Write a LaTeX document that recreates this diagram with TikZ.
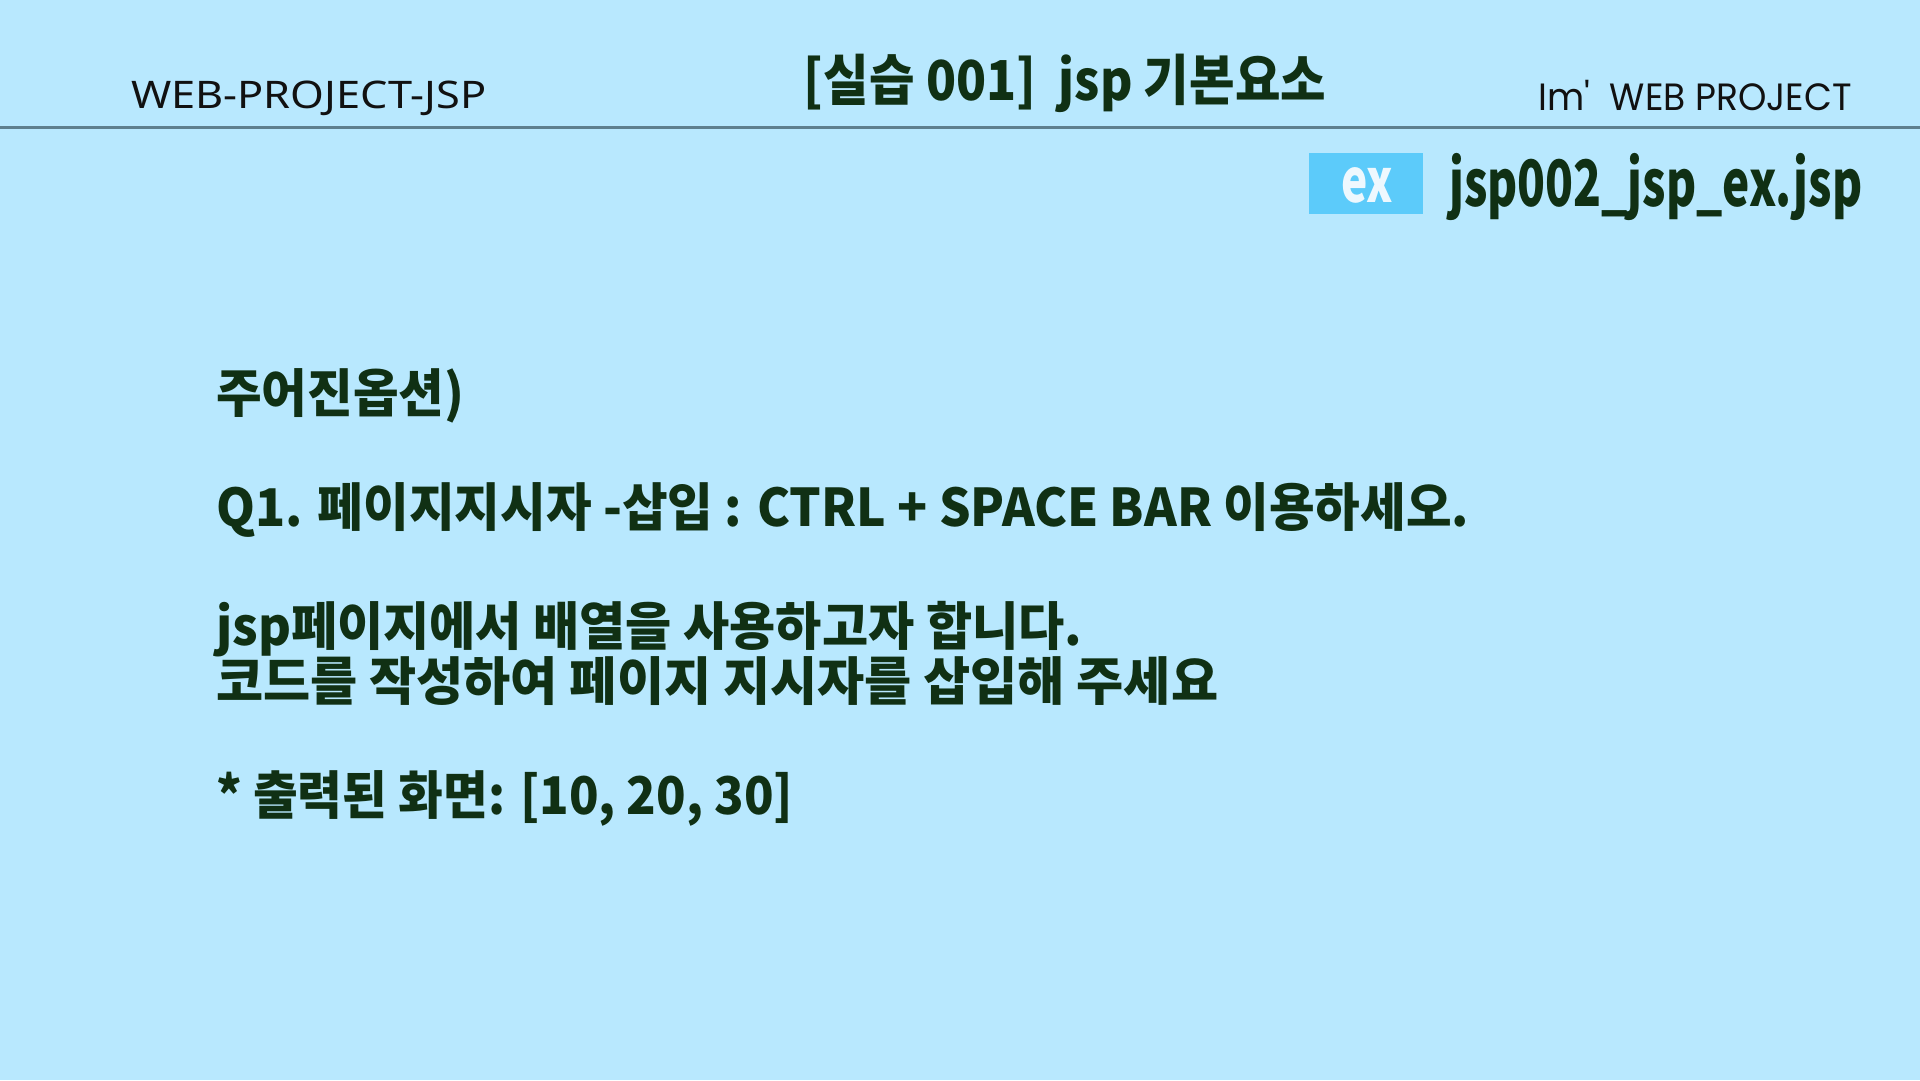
\documentclass[tikz,border=0pt]{standalone}
\usepackage{fontspec}
\usepackage{graphicx}
\setmainfont{Noto Sans}
\newfontfamily\kr{Noto Sans CJK KR}
\newfontfamily\popp{Poppins}
\definecolor{bgc}{HTML}{B8E8FE}
\definecolor{txtg}{HTML}{103014}
\definecolor{rulec}{HTML}{5E7F8E}
\definecolor{exbox}{HTML}{5CCBFA}
\definecolor{exfg}{HTML}{EEF8FE}
\definecolor{hdr}{HTML}{111111}
\newcommand{\fitw}[2]{\resizebox{#1}{\height}{#2}}
\tikzset{
  body/.style={anchor=base west, inner sep=0pt, text=txtg, font=\kr\bfseries\fontsize{52}{60}\selectfont},
  hdrtxt/.style={inner sep=0pt, text=hdr},
}
\begin{document}
\begin{tikzpicture}[x=1pt,y=-1pt]
\fill[bgc] (0,0) rectangle (1920,1080);
\useasboundingbox (0,0) rectangle (1920,1080);
% header
\node[hdrtxt, anchor=base west, font=\fontsize{38}{44}\selectfont] (left) at (131,108) {\fitw{355pt}{WEB-PROJECT-JSP}};
\node[anchor=base, inner sep=0pt, text=txtg, font=\kr\bfseries\fontsize{55}{60}\selectfont] (title) at (1065,100) {\fitw{522pt}{[실습 001]\ \ jsp 기본요소}};
\node[hdrtxt, anchor=base east, font=\popp\fontsize{38}{44}\selectfont] (right) at (1852,110) {\fitw{313pt}{Im'\ \ WEB PROJECT}};
\coordinate (rl) at (0,127.5);
\coordinate (rr) at (1920,127.5);
\draw[rulec, line width=3pt] (rl) -- (rr);
% ex label
\node[fill=exbox, minimum width=114pt, minimum height=61pt, inner sep=0pt] (exb) at (1366,183.5) {};
\node[anchor=base, inner sep=0pt, text=exfg, font=\kr\bfseries\fontsize{60}{64}\selectfont] (ext) at (1367,202) {\fitw{52pt}{ex}};
\node[anchor=base west, inner sep=0pt, text=txtg, font=\kr\bfseries\fontsize{64}{70}\selectfont] (fname) at (1449,206) {\fitw{413pt}{jsp002\_jsp\_ex.jsp}};
% body
\node[body] (l1) at (216,412) {\fitw{248pt}{주어진옵션)}};
\node[body] (l2) at (216,526) {\fitw{1253pt}{Q1. 페이지지시자 -삽입 : CTRL + SPACE BAR 이용하세오.}};
\node[body] (l3) at (216,645) {\fitw{866pt}{jsp페이지에서 배열을 사용하고자 합니다.}};
\node[body] (l4) at (216,700) {\fitw{1002pt}{코드를 작성하여 페이지 지시자를 삽입해 주세요}};
\node[body] (l5) at (216,814) {\fitw{577pt}{* 출력된 화면: [10, 20, 30]}};
\end{tikzpicture}
\end{document}
